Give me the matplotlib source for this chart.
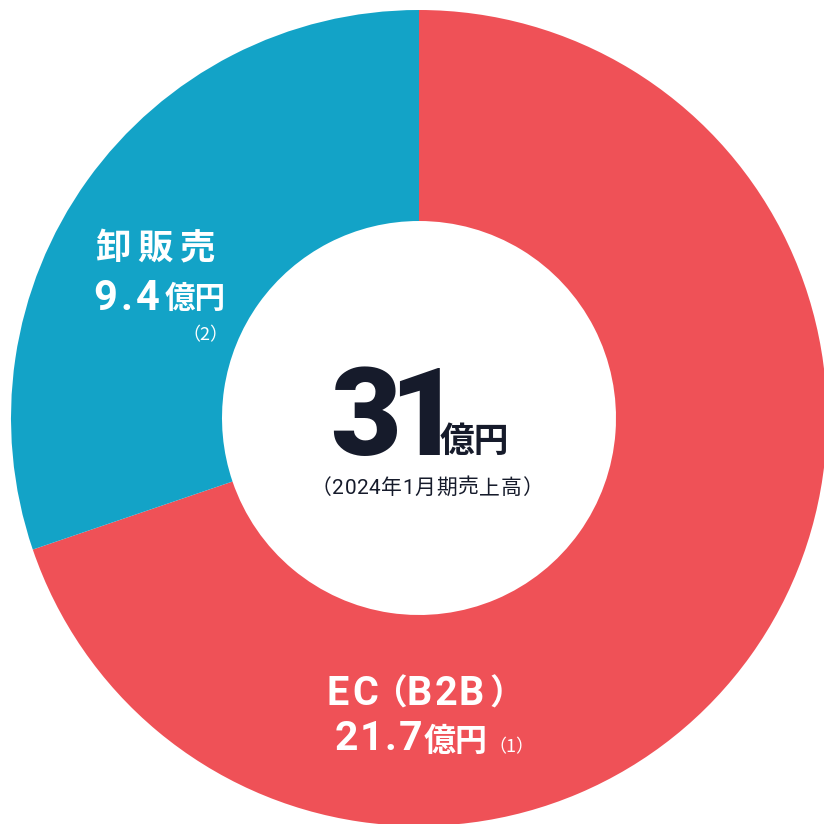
import matplotlib.pyplot as plt

# sales split, 2024/1 term (億円)
segments = ['EC', 'B2B', '卸販売']
amounts = [21.7, 9.4]
seg_colors = ['#EF5157', '#13A3C7']
amount_labels = ['21.7', '9.4']
notes = ['（1）', '（2）']
total = '31'
unit = '億円'
period = '（2024年1月期売上高）'

INK = '#161B2B'
LATIN = ['Roboto', 'Noto Sans CJK JP', 'DejaVu Sans']
CJK = ['Noto Sans CJK JP', 'DejaVu Sans']

W = 824
fig = plt.figure(figsize=(8.24, 8.24), dpi=100)
ax = fig.add_axes([0, 0, 1, 1])


def Y(y):
    # pixel rows from the top -> data y
    return W - y


cx, cy = 419, Y(418)
ax.pie(amounts, colors=seg_colors, startangle=90, counterclock=False,
       center=(cx, cy), radius=408,
       wedgeprops=dict(width=211, linewidth=0))
ax.set_xlim(0, W)
ax.set_ylim(0, W)
ax.set_aspect('equal')
ax.axis('off')

renderer = fig.canvas.get_renderer()


def put(x, y, s, size, weight='bold', color='white', track=0.0,
        family=LATIN, ha='left'):
    """ draw s char by char on one baseline with letter spacing """
    if track == 0:
        t = ax.text(x, Y(y), s, fontsize=size, fontweight=weight, color=color,
                    family=family, ha=ha, va='baseline')
        return x + t.get_window_extent(renderer).width
    for ch in s:
        t = ax.text(x, Y(y), ch, fontsize=size, fontweight=weight,
                    color=color, family=family, ha='left', va='baseline')
        x += t.get_window_extent(renderer).width + track
    return x


# 卸販売 label
put(95, 259, segments[2], 25.5, track=7, family=CJK)
put(93, 310, amount_labels[1], 30, track=3.5)
put(165, 308, unit, 22, family=CJK)
put(182, 340, notes[1], 13, weight='normal', family=CJK)

# EC (B2B) label
put(327, 705, segments[0], 28.5, track=3)
put(408, 705, '（', 25, family=CJK, ha='right')
put(407, 705, segments[1], 28.5, track=2)
put(489, 705, '）', 25, family=CJK)
put(335, 750, amount_labels[0], 29.5, track=1.5)
put(424, 751, unit, 23, family=CJK)
put(488, 752, notes[0], 13, weight='normal', family=CJK)

# centre total
put(330, 455, total, 88, weight='heavy', color=INK, track=-12)
put(440, 452, unit, 25, color=INK, family=CJK)
put(311, 494, period, 15, weight='normal', color=INK, track=0.5)

fig.savefig('out.png', dpi=100, facecolor='white')
